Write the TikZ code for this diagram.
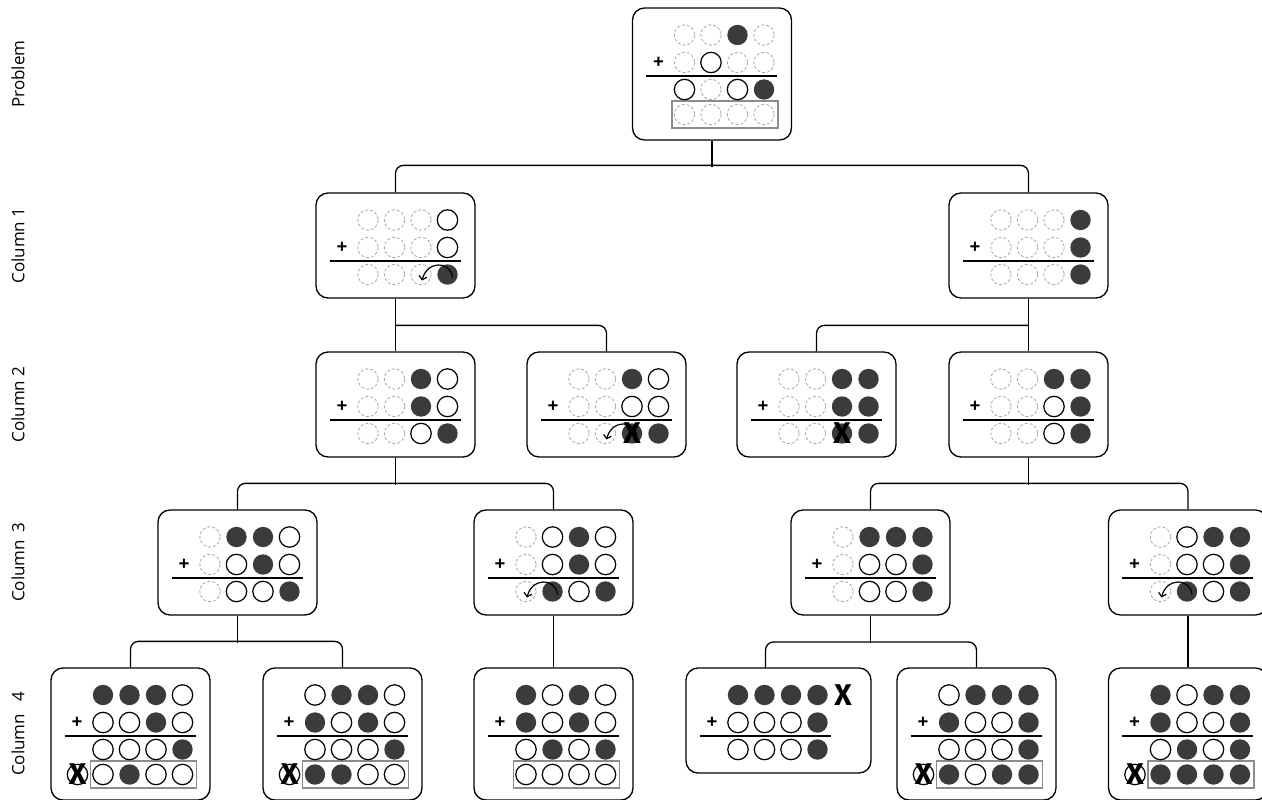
\documentclass[tikz,border=0pt]{standalone}
\usepackage{fontspec}
\setmainfont{Open Sans}
\newfontfamily\xfont{Fira Sans}
\usetikzlibrary{arrows.meta}
\definecolor{fillgray}{HTML}{3B3B3B}
\definecolor{dashgray}{HTML}{A8A8A8}
\definecolor{boxgray}{HTML}{8C8C8C}
\tikzset{
  panel/.style={draw=black, line width=1.3pt, rounded corners=12pt, minimum width=159pt, inner sep=0pt},
  std/.style={draw=dashgray, dash pattern=on 3pt off 2pt, line width=0.8pt},
  sto/.style={draw=black, line width=1.2pt, fill=white},
  stf/.style={fill=fillgray, draw=none},
  conn/.style={draw=black, line width=1.3pt, rounded corners=8pt},
  rlab/.style={rotate=90, font=\fontsize{17}{20}\selectfont, inner sep=0pt},
  plus/.style={font=\bfseries\fontsize{19}{19}\selectfont, inner sep=0pt},
  xmark/.style={font=\xfont\bfseries\fontsize{30}{30}\selectfont, inner sep=0pt},
  ansbox/.style={draw=boxgray, line width=1.5pt},
  divline/.style={draw=black, line width=1.5pt},
  arcst/.style={draw=black, line width=1.2pt, -{Straight Barb[length=3.5pt,width=8pt]}}
}
% one row of four circles: cx, top, offset, list
\newcommand\prow[4]{%
  \foreach \t [count=\i] in {#4}{%
    \pgfmathsetmacro\xx{#1-27.5+26.5*(\i-1)}%
    \pgfmathsetmacro\yy{#2+#3}%
    \edef\tmp{\noexpand\draw[st\t] (\xx,\yy) circle (10.2);}\tmp
  }}
% three-row panel: name, cx, top, r1, r2, r3
\newcommand\PThree[6]{%
  \node[panel, minimum height=105pt] (#1) at (#2,#3+52.5) {};
  \prow{#2}{#3}{27}{#4}\prow{#2}{#3}{54.5}{#5}\prow{#2}{#3}{81.5}{#6}
  \node[plus] (#1-plus) at (#2-53.5,#3+54.5) {+};
  \draw[divline] (#2-66,#3+68) -- (#2+65,#3+68);}
% four-row panel: name, cx, top, r1, r2, r3, r4
\newcommand\PFour[7]{%
  \node[panel, minimum height=132pt] (#1) at (#2,#3+66) {};
  \draw[ansbox] (#2-40,#3+93) rectangle (#2+66,#3+120);
  \prow{#2}{#3}{27}{#4}\prow{#2}{#3}{54.5}{#5}\prow{#2}{#3}{81.5}{#6}\prow{#2}{#3}{106.5}{#7}
  \node[plus] (#1-plus) at (#2-53.5,#3+54.5) {+};
  \draw[divline] (#2-66,#3+68) -- (#2+65,#3+68);}
% carry arc in row 3: cx, top, index of left circle
\newcommand\parc[3]{%
  \pgfmathsetmacro\xa{#1-27.5+26.5*(#3-1)}%
  \pgfmathsetmacro\xb{\xa+26.5}%
  \pgfmathsetmacro\yy{#2+81.5}%
  \draw[arcst] (\xb+5,\yy+3) .. controls (\xb+3,\yy-14) and (\xa+6,\yy-14) .. (\xa+1,\yy+6);}
% crossed circle in row 4: name, cx, top
\newcommand\pxcirc[3]{%
  \draw[sto] (#2-53,#3+106.5) circle (10.2);
  \node[xmark] (#1-x) at (#2-53,#3+106.5) {X};}

\begin{document}
\begin{tikzpicture}[x=1pt,y=-1pt]
\useasboundingbox (0,0) rectangle (1262,800);

% row labels
\node[rlab] (lp) at (18,74) {Problem};
\node[rlab] (l1) at (18,245.5) {Column 1};
\node[rlab] (l2) at (18,404.5) {Column 2};
\node[rlab] (l3) at (18,562.5) {Column\hspace{0.4em}3};
\node[rlab] (l4) at (18,734) {Column\hspace{0.7em}4};

% problem
\PFour{prob}{712}{8}{d,d,f,d}{d,o,d,d}{o,d,o,f}{d,d,d,d}

% column 1
\PThree{c1l}{395.5}{193}{d,d,d,o}{d,d,d,o}{d,d,d,f}
\parc{395.5}{193}{3}
\PThree{c1r}{1028.5}{193}{d,d,d,f}{d,d,d,f}{d,d,d,f}

% column 2
\PThree{A}{395.5}{352}{d,d,f,o}{d,d,f,o}{d,d,o,f}
\PThree{B}{606.5}{352}{d,d,f,o}{d,d,o,o}{d,d,f,f}
\parc{606.5}{352}{2}
\node[xmark] (B-x) at (606.5+25.5,352+81.5) {X};
\PThree{C}{816.5}{352}{d,d,f,f}{d,d,f,f}{d,d,f,f}
\node[xmark] (C-x) at (816.5+25.5,352+81.5) {X};
\PThree{D}{1028.5}{352}{d,d,f,f}{d,d,o,f}{d,d,o,f}

% column 3
\PThree{E}{237.5}{510}{d,f,f,o}{d,o,f,o}{d,o,o,f}
\PThree{F}{553.5}{510}{d,o,f,o}{d,o,f,o}{d,f,o,f}
\parc{553.5}{510}{1}
\PThree{G}{870.5}{510}{d,f,f,f}{d,o,o,f}{d,o,o,f}
\PThree{H}{1188}{510}{d,o,f,f}{d,o,o,f}{d,f,o,f}
\parc{1188}{510}{1}

% column 4
\PFour{I}{130.5}{668}{f,f,f,o}{o,o,f,o}{o,o,o,f}{o,f,o,o}
\pxcirc{I}{130.5}{668}
\PFour{J}{342.5}{668}{o,f,f,o}{f,o,f,o}{o,o,o,f}{f,f,o,o}
\pxcirc{J}{342.5}{668}
\PFour{K}{553.5}{668}{f,o,f,o}{f,o,f,o}{o,f,o,f}{o,o,o,o}
\node[panel, minimum width=185pt, minimum height=105pt] (L) at (778.5,720.5) {};
\prow{765.5}{668}{27}{f,f,f,f}\prow{765.5}{668}{54.5}{o,o,o,f}\prow{765.5}{668}{81.5}{o,o,o,f}
\node[plus] (L-plus) at (765.5-53.5,668+54.5) {+};
\draw[divline] (765.5-66,668+68) -- (765.5+65,668+68);
\node[xmark] (L-x) at (843,695) {X};
\coordinate (Ltop) at (765.5,668);
\PFour{M}{976.5}{668}{o,f,f,f}{f,o,o,f}{o,o,o,f}{f,o,f,f}
\pxcirc{M}{976.5}{668}
\PFour{N}{1188}{668}{f,o,f,f}{f,o,o,f}{o,f,o,f}{f,f,f,f}
\pxcirc{N}{1188}{668}

% connectors
\draw[conn] (prob.south) -- ++(0,26);
\draw[conn] (c1l.north) -- ++(0,-27) -| (c1r.north);
\draw[conn] (c1l.south) -- (A.north);
\draw[conn] (A.north) ++(0,-26) -| (B.north);
\draw[conn] (c1r.south) -- (D.north);
\draw[conn] (D.north) ++(0,-26) -| (C.north);
\draw[conn] (A.south) -- ++(0,27);
\draw[conn] (E.north) -- ++(0,-26) -| (F.north);
\draw[conn] (D.south) -- ++(0,27);
\draw[conn] (G.north) -- ++(0,-26) -| (H.north);
\draw[conn] (E.south) -- ++(0,27);
\draw[conn] (I.north) -- ++(0,-26) -| (J.north);
\draw[conn] (F.south) -- (K.north);
\draw[conn] (G.south) -- ++(0,27);
\draw[conn] (Ltop) -- ++(0,-26) -| (M.north);
\draw[conn] (H.south) -- (N.north);
\end{tikzpicture}
\end{document}
